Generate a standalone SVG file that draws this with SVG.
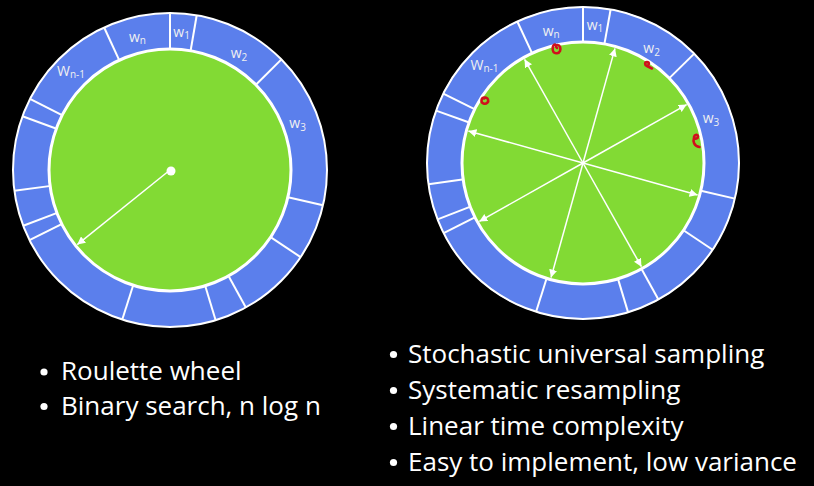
<svg xmlns="http://www.w3.org/2000/svg" width="814" height="486" viewBox="0 0 814 486">
<defs>
<style>
.ring{fill:none;stroke:#5B7FEC;stroke-width:36}
.outer{fill:none;stroke:#FFFFFF;stroke-width:2}
.inner{fill:#82DA34;stroke:#FFFFFF;stroke-width:3}
.div{stroke:#FFFFFF;stroke-width:2}
.arr{stroke:#FFFFFF;stroke-width:1.5;fill:none;marker-end:url(#ah)}
.lbl{font-family:"Open Sans","Liberation Sans",sans-serif;font-size:14px;fill:#F0F0F0}
.sub{font-size:10px}
.txt{font-family:"Open Sans","Liberation Sans",sans-serif;font-size:26px;fill:#FFFFFF}
.red{fill:none;stroke:#D0101C;stroke-width:2.6;stroke-linecap:round;stroke-linejoin:round}
</style>
<marker id="ah" markerUnits="userSpaceOnUse" markerWidth="9" markerHeight="8" refX="8" refY="4" orient="auto">
<path d="M0,0 L8,4 L0,8 z" fill="#FFFFFF"/>
</marker>
</defs>
<rect width="814" height="486" fill="#000000"/>

<g id="roulette-wheel" transform="translate(170,170)">
<circle class="ring" r="139"/>
<g id="left-dividers">
<line class="div" x1="0" y1="-120" x2="0" y2="-157" transform="rotate(0)"/>
<line class="div" x1="0" y1="-120" x2="0" y2="-157" transform="rotate(9.8)"/>
<line class="div" x1="0" y1="-120" x2="0" y2="-157" transform="rotate(45.2)"/>
<line class="div" x1="0" y1="-120" x2="0" y2="-157" transform="rotate(103)"/>
<line class="div" x1="0" y1="-120" x2="0" y2="-157" transform="rotate(123.7)"/>
<line class="div" x1="0" y1="-120" x2="0" y2="-157" transform="rotate(151.1)"/>
<line class="div" x1="0" y1="-120" x2="0" y2="-157" transform="rotate(163.1)"/>
<line class="div" x1="0" y1="-120" x2="0" y2="-157" transform="rotate(197.7)"/>
<line class="div" x1="0" y1="-120" x2="0" y2="-157" transform="rotate(243.5)"/>
<line class="div" x1="0" y1="-120" x2="0" y2="-157" transform="rotate(249.2)"/>
<line class="div" x1="0" y1="-120" x2="0" y2="-157" transform="rotate(262.4)"/>
<line class="div" x1="0" y1="-120" x2="0" y2="-157" transform="rotate(290)"/>
<line class="div" x1="0" y1="-120" x2="0" y2="-157" transform="rotate(296.9)"/>
<line class="div" x1="0" y1="-120" x2="0" y2="-157" transform="rotate(335.2)"/>
</g>
<circle class="outer" r="157"/>
<circle class="inner" r="121"/>
</g>
<g id="left-labels">
<text class="lbl" x="173.3" y="37">w<tspan class="sub" dy="2">1</tspan></text>
<text class="lbl" x="129" y="41.5">w<tspan class="sub" dy="2">n</tspan></text>
<text class="lbl" x="230.7" y="58.3">w<tspan class="sub" dy="2.5">2</tspan></text>
<text class="lbl" x="289.3" y="128.3">w<tspan class="sub" dy="2.5">3</tspan></text>
<text class="lbl" x="57" y="75.5">W<tspan class="sub" dy="2.5">n-1</tspan></text>
</g>
<g id="left-pointer">
<line class="arr" x1="0" y1="0" x2="0" y2="-119" transform="translate(170,170) rotate(231.2)"/>
<circle cx="171" cy="171" r="4.5" fill="#FFFFFF"/>
</g>

<g id="sus-wheel" transform="translate(583,163)">
<circle class="ring" r="138.5"/>
<g id="right-dividers">
<line class="div" x1="0" y1="-120" x2="0" y2="-156" transform="rotate(0)"/>
<line class="div" x1="0" y1="-120" x2="0" y2="-156" transform="rotate(10.2)"/>
<line class="div" x1="0" y1="-120" x2="0" y2="-156" transform="rotate(45.5)"/>
<line class="div" x1="0" y1="-120" x2="0" y2="-156" transform="rotate(103.2)"/>
<line class="div" x1="0" y1="-120" x2="0" y2="-156" transform="rotate(123.8)"/>
<line class="div" x1="0" y1="-120" x2="0" y2="-156" transform="rotate(151.1)"/>
<line class="div" x1="0" y1="-120" x2="0" y2="-156" transform="rotate(163.2)"/>
<line class="div" x1="0" y1="-120" x2="0" y2="-156" transform="rotate(197.5)"/>
<line class="div" x1="0" y1="-120" x2="0" y2="-156" transform="rotate(243.3)"/>
<line class="div" x1="0" y1="-120" x2="0" y2="-156" transform="rotate(248.8)"/>
<line class="div" x1="0" y1="-120" x2="0" y2="-156" transform="rotate(262.2)"/>
<line class="div" x1="0" y1="-120" x2="0" y2="-156" transform="rotate(289.6)"/>
<line class="div" x1="0" y1="-120" x2="0" y2="-156" transform="rotate(296.4)"/>
<line class="div" x1="0" y1="-120" x2="0" y2="-156" transform="rotate(335.1)"/>
</g>
<circle class="outer" r="156"/>
<circle class="inner" r="121"/>
</g>
<g id="right-labels">
<text class="lbl" x="586.7" y="30">w<tspan class="sub" dy="2">1</tspan></text>
<text class="lbl" x="542.7" y="36">w<tspan class="sub" dy="2">n</tspan></text>
<text class="lbl" x="643.3" y="53.3">w<tspan class="sub" dy="2.5">2</tspan></text>
<text class="lbl" x="702.7" y="123.3">w<tspan class="sub" dy="2.5">3</tspan></text>
<text class="lbl" x="470.5" y="69.5">W<tspan class="sub" dy="2.5">n-1</tspan></text>
</g>
<g id="connectors" transform="translate(583,163)">
<line class="arr" x1="0" y1="0" x2="0" y2="-119" transform="rotate(15.6)"/>
<line class="arr" x1="0" y1="0" x2="0" y2="-119" transform="rotate(60.6)"/>
<line class="arr" x1="0" y1="0" x2="0" y2="-119" transform="rotate(105.6)"/>
<line class="arr" x1="0" y1="0" x2="0" y2="-119" transform="rotate(150.6)"/>
<line class="arr" x1="0" y1="0" x2="0" y2="-119" transform="rotate(195.6)"/>
<line class="arr" x1="0" y1="0" x2="0" y2="-119" transform="rotate(240.6)"/>
<line class="arr" x1="0" y1="0" x2="0" y2="-119" transform="rotate(285.6)"/>
<line class="arr" x1="0" y1="0" x2="0" y2="-119" transform="rotate(330.6)"/>
</g>
<g id="red-marks">
<path class="red" d="M555,44.5 C552.5,45 552,50 553.5,52 C555,54 559,53.5 560,51 C561,48 560,45 557.5,45 C556,45 555.5,47 557,48"/>
<path class="red" d="M647,66 C644.5,65 644.5,62 647,62 C649.5,62 649.5,65 647,66 L652,68.5"/>
<path class="red" d="M484,97.5 C481,98 480.5,102.5 483.5,103.5 C486.5,104.5 489,102 488,99.5 C487.5,97.5 485,97 484,98.5"/>
<path class="red" d="M694,137 C694.5,134.5 698,134 698,136.5 C698,139 695,139 694,138 C693,141 693.5,146 699.5,147"/>
</g>

<g id="left-text">
<circle cx="44" cy="372" r="3.6" fill="#FFFFFF"/>
<text class="txt" x="61" y="380">Roulette wheel</text>
<circle cx="44" cy="406.5" r="3.6" fill="#FFFFFF"/>
<text class="txt" x="61" y="414.5">Binary search, n log n</text>
</g>
<g id="right-text">
<circle cx="393.5" cy="354.5" r="3.6" fill="#FFFFFF"/>
<text class="txt" x="408" y="362.5">Stochastic universal sampling</text>
<circle cx="393.5" cy="390.5" r="3.6" fill="#FFFFFF"/>
<text class="txt" x="408" y="398.5">Systematic resampling</text>
<circle cx="393.5" cy="426.5" r="3.6" fill="#FFFFFF"/>
<text class="txt" x="408" y="434.5">Linear time complexity</text>
<circle cx="393.5" cy="462.5" r="3.6" fill="#FFFFFF"/>
<text class="txt" x="408" y="470.5">Easy to implement, low variance</text>
</g>
</svg>
